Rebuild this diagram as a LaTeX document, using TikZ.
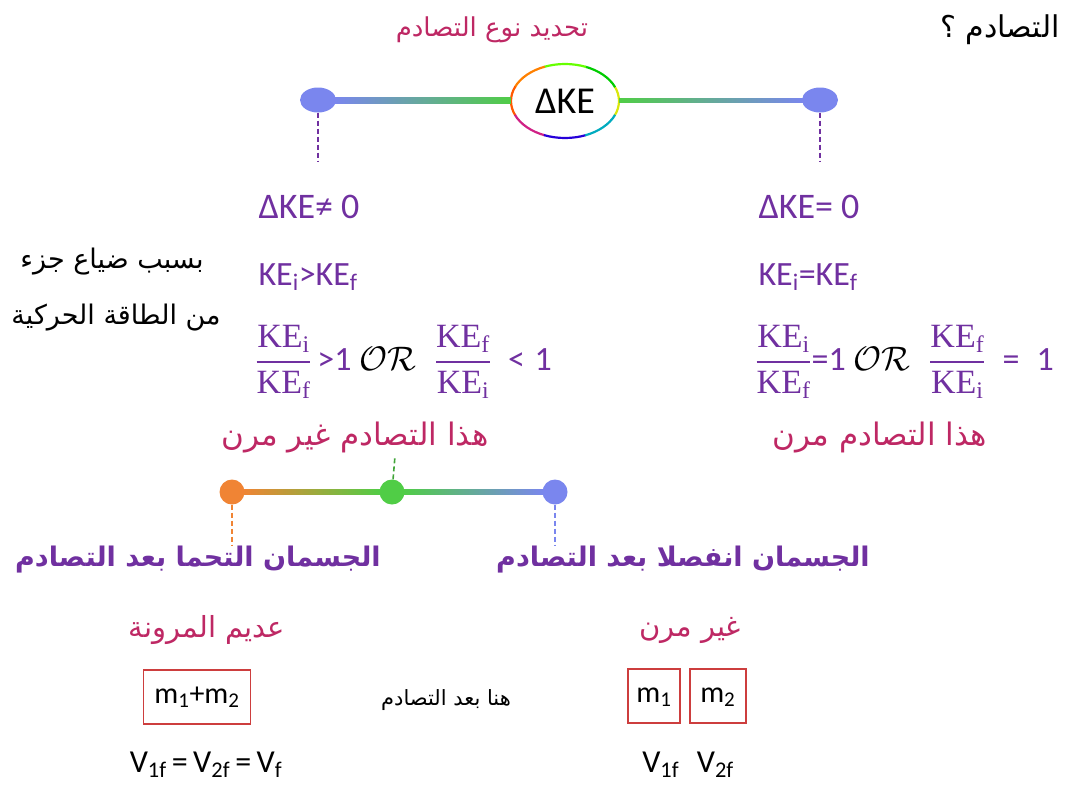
\RequirePackage{fix-cm}
\documentclass[tikz,border=0pt]{standalone}
\usepackage{amsmath}
\usepackage{fontspec}
\setmainfont{Carlito}
\newfontfamily\arabicfont[Script=Arabic]{DejaVu Sans}
\newfontfamily\fracserif{Liberation Serif}
\TeXXeTstate=1
\usetikzlibrary{
  calc,
  positioning,
  shapes.geometric,
}
\definecolor{kepurple}{RGB}{112, 48, 160}
\definecolor{kecrimson}{RGB}{190, 40, 100}
\definecolor{dotblue}{RGB}{122, 134, 238}
\definecolor{dotgreen}{RGB}{80, 205, 70}
\definecolor{dotorange}{RGB}{240, 132, 52}
\definecolor{boxred}{RGB}{205, 62, 62}
\tikzstyle{dot} = [
  ellipse,
  minimum width=36pt,
  minimum height=25pt,
  inner sep=0pt,
]
\tikzstyle{link} = [
  line width=1.6pt,
  dash pattern=on 5pt off 3pt,
]
\newcommand{\arab}[1]{{\arabicfont\beginR #1\endR}}
\newcommand{\kefrac}[2]{$\genfrac{}{}{1.2pt}{0}%
  {\text{\fracserif KE}_{\text{\fracserif #1}}}%
  {\text{\fracserif KE}_{\text{\fracserif #2}}}$}

\begin{document}
\begin{tikzpicture}[x=1pt, y=-1pt,
    artext/.style={font=\fontsize{26}{30}\selectfont},
    purpletext/.style={text=kepurple, font=\fontsize{36}{42}\selectfont},
    fractext/.style={text=kepurple, font=\fontsize{34}{40}\selectfont},
    note/.style={text=kecrimson, font=\fontsize{31}{36}\selectfont},
    massbox/.style={draw=boxred, line width=1.8pt, minimum height=54pt,
                    inner sep=5pt, font=\fontsize{30}{36}\selectfont}]
  \useasboundingbox (0,0) rectangle (1067,787);

  \node [artext, font=\fontsize{30}{36}\selectfont] (question) at (1000,30) {\arab{التصادم ؟}};
  \node [artext, text=kecrimson] (title) at (492,30) {\arab{تحديد نوع التصادم}};

  \node [ellipse, minimum width=108pt, minimum height=74pt, inner sep=0pt,
         font=\fontsize{38}{44}\selectfont] (ke) at (565,101) {ΔKE};
  \foreach \v/\c in {0/yellow!85!green, 45/green!80!black, 90/green!60!yellow,
                     135/orange, 180/orange!70!red, 225/magenta!70!violet,
                     270/blue!70!violet, 315/cyan!70!green}
    \draw [\c, line width=2.2pt] ($(ke.center)+(-\v+23:54 and 37)$)
          arc [start angle=-\v+23, end angle=-\v-23, x radius=54, y radius=37];

  \node [dot, fill=dotblue] (ldot) at (318,100) {};
  \node [dot, fill=dotblue] (rdot) at (820,100) {};
  \shade [left color=dotblue, right color=dotgreen]
        ($(ldot.east)+(-2,-2.5)$) rectangle ($(ke.west)+(0,2.5)$);
  \shade [left color=dotgreen, right color=dotblue]
        ($(ke.east)+(0,-2.5)$) rectangle ($(rdot.west)+(2,2.5)$);

  \coordinate (ltip) at (318,162);
  \coordinate (rtip) at (820,162);
  \draw [link, kepurple] (ldot) -- (ltip);
  \draw [link, kepurple] (rdot) -- (rtip);

  \node [purpletext, anchor=west] (neq) at (255,207) {ΔKE≠ 0};
  \node [purpletext, anchor=west] (eq) at (755,207) {ΔKE= 0};
  \node [fractext, anchor=west] (kegt) at (255,277) {KE\textsubscript{i}>KE\textsubscript{f}};
  \node [fractext, anchor=west] (keeq) at (755,277) {KE\textsubscript{i}=KE\textsubscript{f}};
  \node [fractext, anchor=west] (ratl) at (252,362)
        {\kefrac{i}{f}\,>1 {\color{black}$\mathcal{OR}$}\;\;\kefrac{f}{i}\; <\;1};
  \node [fractext, anchor=west] (ratr) at (752,362)
        {\kefrac{i}{f}=1 {\color{black}$\mathcal{OR}$}\;\;\kefrac{f}{i}\; = \;1};

  \node [artext, font=\fontsize{27}{32}\selectfont] (loss1) at (112,262) {\arab{بسبب ضياع جزء}};
  \node [artext, font=\fontsize{27}{32}\selectfont] (loss2) at (116,318) {\arab{من الطاقة الحركية}};

  \node [note] (inelnote) at (355,438) {\arab{هذا التصادم غير مرن}};
  \node [note] (elnote) at (880,438) {\arab{هذا التصادم مرن}};

  \node [dot, minimum width=25pt, fill=dotorange] (odot) at (232,492) {};
  \node [dot, minimum width=25pt, fill=dotgreen] (gdot) at (392,492) {};
  \node [dot, minimum width=25pt, fill=dotblue] (bdot) at (555,492) {};
  \shade [left color=dotorange, right color=dotgreen]
        ($(odot.east)+(-2,-2.5)$) rectangle ($(gdot.west)+(2,2.5)$);
  \shade [left color=dotgreen, right color=dotblue]
        ($(gdot.east)+(-2,-2.5)$) rectangle ($(bdot.west)+(2,2.5)$);

  \coordinate (gtip) at (395,456);
  \coordinate (otip) at (232,546);
  \coordinate (btip) at (555,546);
  \draw [link, dotgreen!80!black] (gdot) -- (gtip);
  \draw [link, dotorange] (odot) -- (otip);
  \draw [link, dotblue] (bdot) -- (btip);

  \node [purpletext, font=\fontsize{27}{32}\selectfont\bfseries] (stuck) at (198,560)
        {\arab{الجسمان التحما بعد التصادم}};
  \node [purpletext, font=\fontsize{27}{32}\selectfont\bfseries] (apart) at (683,560)
        {\arab{الجسمان انفصلا بعد التصادم}};

  \node [note, font=\fontsize{29}{34}\selectfont] (perfect) at (207,630) {\arab{عديم المرونة}};
  \node [note, font=\fontsize{29}{34}\selectfont] (inelastic) at (690,630) {\arab{غير مرن}};

  \node [massbox, minimum width=107pt] (joined) at (197,697) {m\textsubscript{1}+m\textsubscript{2}};
  \node [massbox, minimum width=52pt] (mone) at (654,696) {m\textsubscript{1}\vphantom{+}};
  \node [massbox, minimum width=56pt, right=8pt of mone] (mtwo) {m\textsubscript{2}\vphantom{+}};
  \node [font=\fontsize{21}{24}\selectfont] (after) at (446,700) {\arab{هنا بعد التصادم}};

  \node [font=\fontsize{32}{38}\selectfont] (vsame) at (206,765)
        {V\textsubscript{1f}\,=\,V\textsubscript{2f}\,=\,V\textsubscript{f}};
  \node [font=\fontsize{32}{38}\selectfont] (vdiff) at (688,765)
        {V\textsubscript{1f}\;\;V\textsubscript{2f}};
\end{tikzpicture}
\end{document}
